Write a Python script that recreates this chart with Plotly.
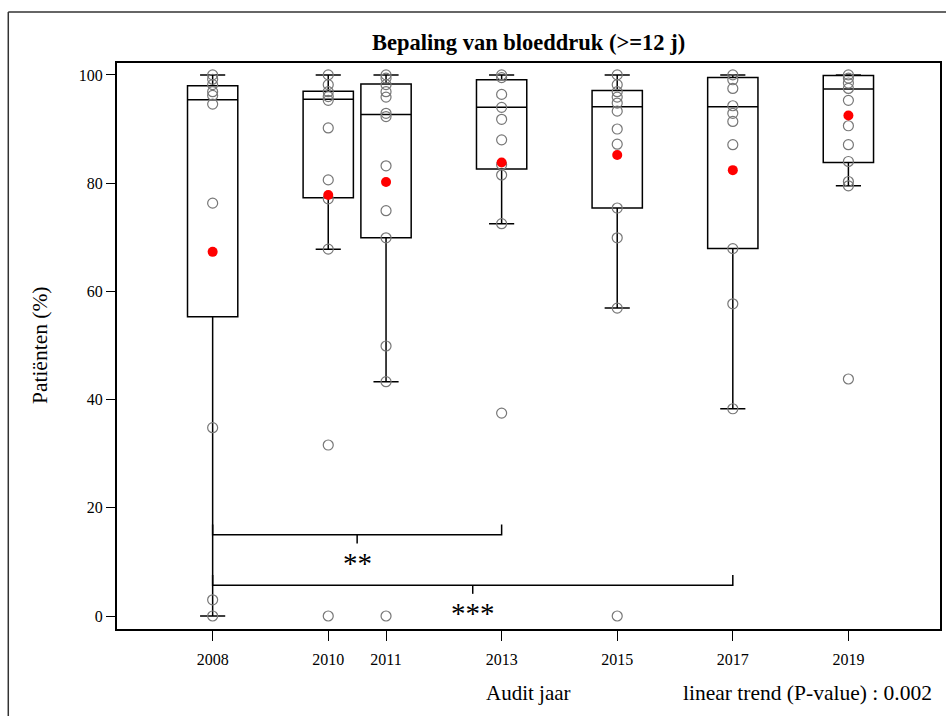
import plotly.graph_objects as go

# Audit years and per-practice percentages of patients (>=12 y) with a blood pressure measurement
years = [2008, 2010, 2011, 2013, 2015, 2017, 2019]

pts_2008 = [100, 99.2, 98.2, 96.9, 96.2, 94.6, 76.3, 34.8, 3.0, 0]
pts_2010 = [100, 98.2, 96.9, 96.0, 95.3, 90.2, 80.6, 77.1, 67.8, 31.6, 0]
pts_2011 = [100, 99.4, 98.2, 96.9, 95.9, 92.9, 92.3, 83.2, 74.9, 69.9, 49.9, 43.3, 0]
pts_2013 = [100, 99.5, 96.4, 94.0, 91.8, 88.0, 83.4, 81.5, 72.5, 37.5]
pts_2015 = [100, 98.2, 96.9, 95.9, 94.8, 93.3, 90.0, 87.2, 75.4, 69.9, 56.9, 0]
pts_2017 = [100, 99.1, 97.5, 94.3, 92.9, 91.4, 87.1, 67.9, 57.7, 38.3]
pts_2019 = [100, 99.4, 98.5, 97.5, 95.3, 90.6, 87.1, 84.0, 80.3, 79.5, 43.8]
points = [pts_2008, pts_2010, pts_2011, pts_2013, pts_2015, pts_2017, pts_2019]

# Box statistics per year
q1 = [55.3, 77.3, 69.9, 82.6, 75.4, 67.9, 83.8]
median = [95.4, 95.5, 92.7, 94.0, 94.1, 94.1, 97.4]
q3 = [98.0, 97.0, 98.3, 99.1, 97.1, 99.5, 99.9]
lower_whisker = [0, 67.8, 43.3, 72.5, 56.9, 38.3, 79.5]
upper_whisker = [100, 100, 100, 100, 100, 100, 100]
means = [67.3, 77.8, 80.2, 83.8, 85.2, 82.4, 92.5]

# Pairwise comparisons: (from year, to year, bracket level, label)
comparisons = [(2008, 2013, 15.0, "**"), (2008, 2017, 5.7, "***")]

SERIF = "Liberation Serif"

fig = go.Figure()

fig.add_trace(go.Box(
    x=years, q1=q1, median=median, q3=q3,
    lowerfence=lower_whisker, upperfence=upper_whisker,
    width=0.87, whiskerwidth=0.5,
    line=dict(color="black", width=1.5),
    fillcolor="rgba(0,0,0,0)",
    boxpoints=False, hoverinfo="skip", showlegend=False,
))

px_x, px_y = [], []
for yr, vals in zip(years, points):
    px_x += [yr] * len(vals)
    px_y += vals
fig.add_trace(go.Scatter(
    x=px_x, y=px_y, mode="markers", showlegend=False,
    marker=dict(symbol="circle-open", size=10, color="#777777", line=dict(width=1.2)),
))

fig.add_trace(go.Scatter(
    x=years, y=means, mode="markers", showlegend=False,
    marker=dict(symbol="circle", size=10, color="#ff0000"),
))

# Significance brackets
for a, b, lvl, label in comparisons:
    mid = (a + b) / 2
    fig.add_trace(go.Scatter(
        x=[a, a, b, b], y=[lvl + 1.9, lvl, lvl, lvl + 1.9],
        mode="lines", line=dict(color="black", width=1.5),
        showlegend=False, hoverinfo="skip",
    ))
    fig.add_trace(go.Scatter(
        x=[mid, mid], y=[lvl, lvl - 1.6],
        mode="lines", line=dict(color="black", width=1.5),
        showlegend=False, hoverinfo="skip",
    ))
    fig.add_annotation(x=mid, y=lvl - 5.2, text=label, showarrow=False,
                       font=dict(family=SERIF, size=29, color="black"),
                       xanchor="center", yanchor="middle")

axis_common = dict(
    showline=True, linecolor="black", linewidth=2, mirror=True,
    showgrid=False, zeroline=False, ticks="outside", tickcolor="black",
    tickfont=dict(family=SERIF, size=16, color="black"),
)
fig.update_xaxes(range=[2006.345, 2020.585], tickvals=years, ticklen=10,
                 ticklabelstandoff=5, **axis_common)
fig.update_yaxes(range=[-2.4, 102.2], tickvals=[0, 20, 40, 60, 80, 100], ticklen=9,
                 ticklabelstandoff=0, **axis_common)

fig.add_annotation(xref="paper", yref="paper", x=0.5006, y=1.037,
                   text="<b>Bepaling van bloeddruk (>=12 j)</b>", showarrow=False,
                   font=dict(family=SERIF, size=22.5, color="black"),
                   xanchor="center", yanchor="middle")
fig.add_annotation(xref="paper", yref="paper", x=0.5006, y=-0.113,
                   text="Audit jaar", showarrow=False,
                   font=dict(family=SERIF, size=21, color="black"),
                   xanchor="center", yanchor="middle")
fig.add_annotation(xref="paper", yref="paper", x=0.9927, y=-0.113,
                   text="linear trend (P-value) : 0.002", showarrow=False,
                   font=dict(family=SERIF, size=21.5, color="black"),
                   xanchor="right", yanchor="middle")
fig.add_annotation(xref="paper", yref="paper", x=-0.0933, y=0.502,
                   text="Patiënten (%)", showarrow=False, textangle=-90,
                   font=dict(family=SERIF, size=21.5, color="black"),
                   xanchor="center", yanchor="middle")

# Outer frame (top and left edges visible)
fig.add_shape(type="line", xref="paper", yref="paper", x0=-0.1321, x1=1.2, y0=1.0901, y1=1.0901,
              line=dict(color="#333333", width=1.5))
fig.add_shape(type="line", xref="paper", yref="paper", x0=-0.1321, x1=-0.1321, y0=-0.3, y1=1.0901,
              line=dict(color="#333333", width=1.5))

fig.update_layout(
    width=946, height=716,
    margin=dict(l=117, r=4, t=63, b=87),
    plot_bgcolor="white", paper_bgcolor="white",
    font=dict(family=SERIF, color="black"),
)

fig.write_html("out.html")
